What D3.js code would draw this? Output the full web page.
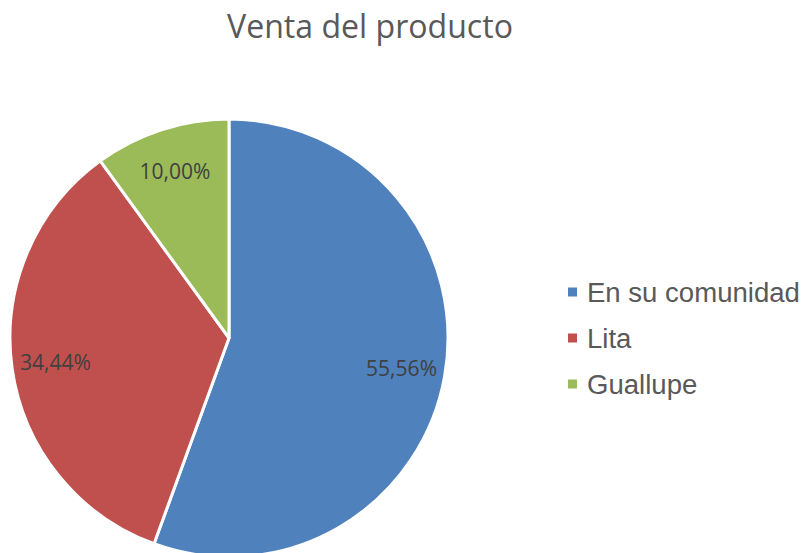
<!DOCTYPE html>
<html>
<head>
<meta charset="utf-8">
<script src="https://cdn.jsdelivr.net/npm/d3@7"></script>
<style>
  html, body { margin: 0; padding: 0; background: #fff; }
  svg { display: block; }
</style>
</head>
<body>
<svg id="chart" width="806" height="553"></svg>
<script>
const title = "Venta del producto";
const categories = ["En su comunidad", "Lita", "Guallupe"];
const values = [55.56, 34.44, 10.00];
const labels = ["55,56%", "34,44%", "10,00%"];
const colors = ["#4F81BD", "#C0504D", "#9BBB59"];

const svg = d3.select("#chart");
const W = 806, H = 553;
const cx = 229, cy = 338, R = 219;

function fit(sel, target) {
  let fs = parseFloat(sel.attr("font-size"));
  for (let i = 0; i < 3; i++) {
    const w = sel.node().getComputedTextLength();
    fs = fs * target / w;
    sel.attr("font-size", fs);
  }
}

// Title
const t = svg.append("text")
  .attr("x", 370).attr("y", 38)
  .attr("text-anchor", "middle")
  .attr("font-family", "'Open Sans', 'Noto Sans', sans-serif")
  .attr("font-size", 30)
  .attr("fill", "#595959")
  .text(title);
fit(t, 286);

// Pie
const pie = d3.pie().sort(null).value(d => d);
const arcs = pie(values);
const arc = d3.arc().innerRadius(0).outerRadius(R);
const labelArc = d3.arc().innerRadius(R * 0.8).outerRadius(R * 0.8);

const g = svg.append("g").attr("transform", `translate(${cx},${cy})`);
g.selectAll("path.slice")
  .data(arcs)
  .join("path")
  .attr("class", "slice")
  .attr("d", arc)
  .attr("fill", (d, i) => colors[i])
  .attr("stroke", "#fff")
  .attr("stroke-width", 3)
  .attr("stroke-linejoin", "round");

const lbl = g.selectAll("text.lbl")
  .data(arcs)
  .join("text")
  .attr("class", "lbl")
  .attr("transform", d => `translate(${labelArc.centroid(d)})`)
  .attr("text-anchor", "middle")
  .attr("dy", "0.36em")
  .attr("font-family", "'Open Sans', 'Noto Sans', sans-serif")
  .attr("font-size", 20)
  .attr("fill", "#404040")
  .text((d, i) => labels[i]);
lbl.each(function() { fit(d3.select(this), 71); });

// Legend
const legendY = d3.scalePoint().domain(categories).range([292, 384]);
const lg = svg.append("g");
const items = lg.selectAll("g.item")
  .data(categories)
  .join("g")
  .attr("class", "item")
  .attr("transform", d => `translate(568,${legendY(d)})`);
items.append("rect")
  .attr("x", 0).attr("y", -4.5)
  .attr("width", 9).attr("height", 9)
  .attr("fill", (d, i) => colors[i]);
const lt = items.append("text")
  .attr("x", 19).attr("y", 0)
  .attr("dy", "0.35em")
  .attr("font-family", "'Liberation Sans', Arial, sans-serif")
  .attr("font-size", 26)
  .attr("fill", "#595959")
  .text(d => d);
fit(d3.select(lt.nodes()[0]), 213);
const fsL = d3.select(lt.nodes()[0]).attr("font-size");
lt.attr("font-size", fsL);
</script>
</body>
</html>
